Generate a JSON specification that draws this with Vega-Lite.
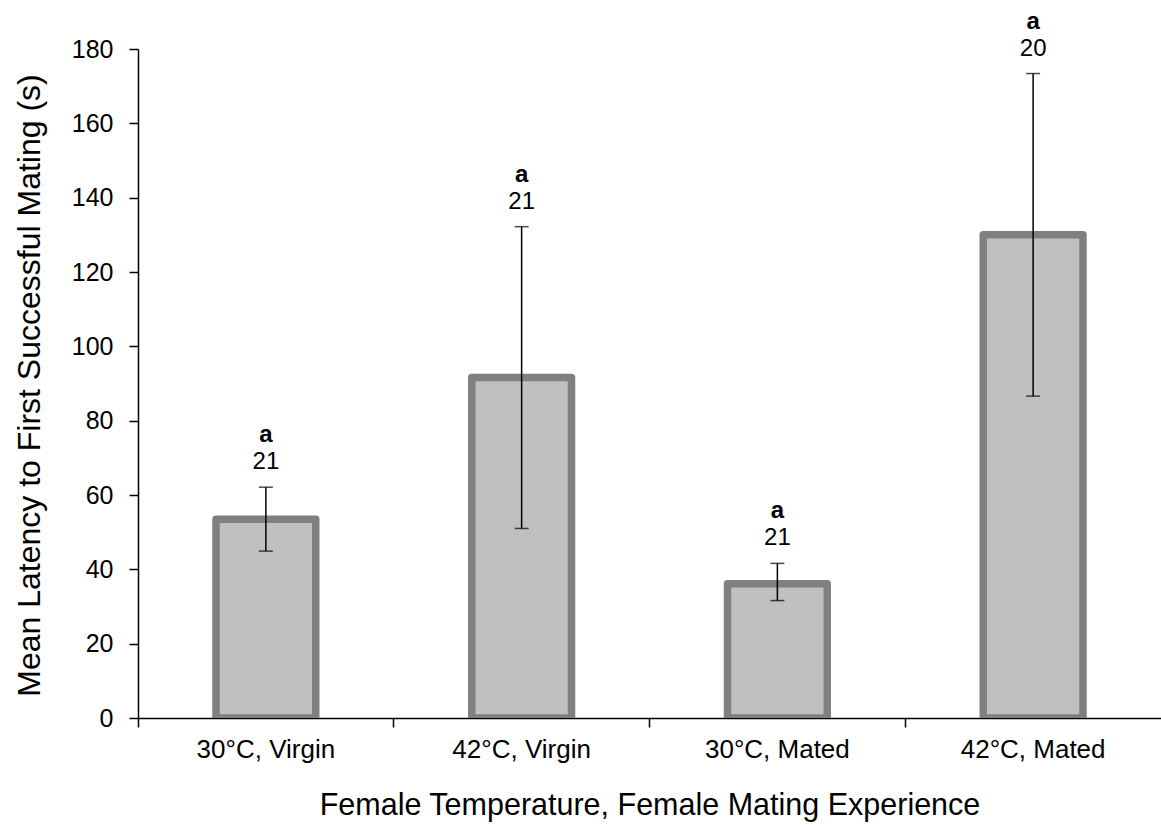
{
  "$schema": "https://vega.github.io/schema/vega-lite/v6.json",
  "autosize": {"type": "none"},
  "width": 1023,
  "height": 669,
  "padding": {"left": 138, "top": 49, "right": 0, "bottom": 107},
  "background": "white",
  "config": {
    "view": {"stroke": null},
    "font": "Liberation Sans",
    "axis": {
      "domainColor": "#000000",
      "domainWidth": 1.5,
      "tickColor": "#000000",
      "tickWidth": 1.5,
      "labelColor": "#000000",
      "titleColor": "#000000",
      "labelFont": "Liberation Sans",
      "titleFont": "Liberation Sans",
      "titleFontWeight": "normal",
      "grid": false
    }
  },
  "data": {
    "values": [
      {"group": "30°C, Virgin", "mean": 53.5, "lower": 44.9, "upper": 62.1, "n": "21", "letter": "a"},
      {"group": "42°C, Virgin", "mean": 91.6, "lower": 51.0, "upper": 132.2, "n": "21", "letter": "a"},
      {"group": "30°C, Mated", "mean": 36.1, "lower": 31.6, "upper": 41.6, "n": "21", "letter": "a"},
      {"group": "42°C, Mated", "mean": 130.0, "lower": 86.6, "upper": 173.4, "n": "20", "letter": "a"}
    ]
  },
  "encoding": {
    "x": {
      "field": "group",
      "type": "nominal",
      "sort": null,
      "scale": {"paddingInner": 0, "paddingOuter": 0},
      "axis": {
        "title": "Female Temperature, Female Mating Experience",
        "titleFontSize": 30.5,
        "titleY": 87,
        "titleBaseline": "middle",
        "labelFontSize": 26,
        "labelAngle": 0,
        "labelPadding": 9,
        "tickSize": 9,
        "bandPosition": 0
      }
    }
  },
  "layer": [
    {
      "mark": {
        "type": "bar",
        "width": {"band": 0.39},
        "fill": "#c0c0c0",
        "stroke": "#808080",
        "strokeWidth": 7.5,
        "strokeJoin": "round",
        "clip": true
      },
      "encoding": {
        "y": {
          "field": "mean",
          "type": "quantitative",
          "scale": {"domain": [0, 180], "nice": false},
          "axis": {
            "title": "Mean Latency to First Successful Mating (s)",
            "titleFontSize": 32,
            "titleX": -109,
            "titleY": 336,
            "titleAngle": -90,
            "titleBaseline": "middle",
            "titleAlign": "center",
            "values": [0, 20, 40, 60, 80, 100, 120, 140, 160, 180],
            "labelFontSize": 25,
            "labelPadding": 16,
            "tickSize": 9
          }
        }
      }
    },
    {
      "mark": {"type": "rule", "color": "#000000", "strokeWidth": 1.5},
      "encoding": {
        "y": {"field": "lower", "type": "quantitative"},
        "y2": {"field": "upper"}
      }
    },
    {
      "mark": {"type": "tick", "color": "#000000", "size": 14, "thickness": 1.5, "orient": "horizontal"},
      "encoding": {"y": {"field": "upper", "type": "quantitative"}}
    },
    {
      "mark": {"type": "tick", "color": "#000000", "size": 14, "thickness": 1.5, "orient": "horizontal"},
      "encoding": {"y": {"field": "lower", "type": "quantitative"}}
    },
    {
      "mark": {"type": "text", "fontSize": 24, "color": "#000000", "baseline": "middle", "dy": -25},
      "encoding": {
        "y": {"field": "upper", "type": "quantitative"},
        "text": {"field": "n"}
      }
    },
    {
      "mark": {"type": "text", "fontSize": 24, "fontWeight": "bold", "color": "#000000", "baseline": "middle", "dy": -52},
      "encoding": {
        "y": {"field": "upper", "type": "quantitative"},
        "text": {"field": "letter"}
      }
    }
  ]
}
